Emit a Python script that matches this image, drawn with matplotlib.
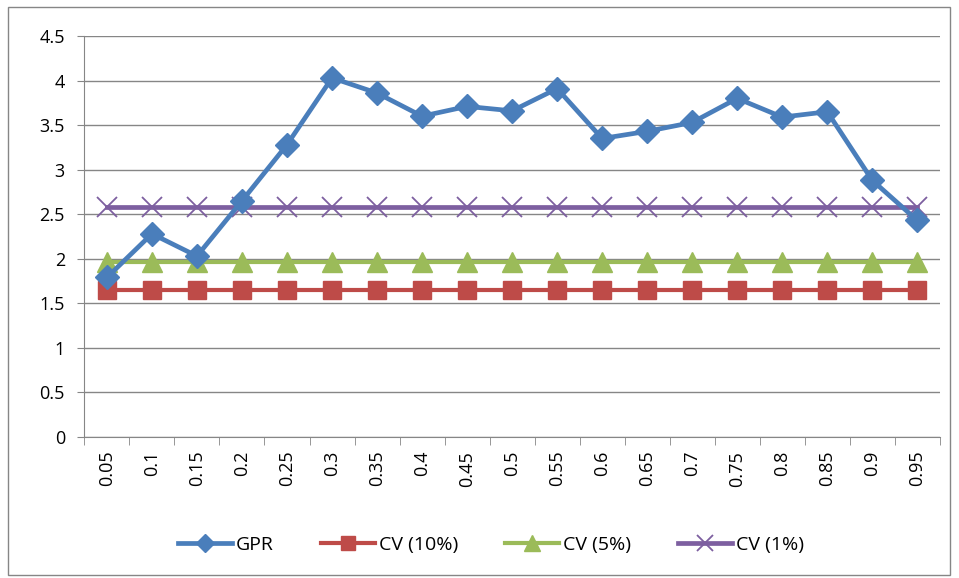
import numpy as np
import matplotlib.pyplot as plt
from matplotlib.patches import Rectangle

plt.rcParams['font.family'] = ['Open Sans', 'DejaVu Sans']

labels = ['0.05', '0.1', '0.15', '0.2', '0.25', '0.3', '0.35', '0.4', '0.45', '0.5',
          '0.55', '0.6', '0.65', '0.7', '0.75', '0.8', '0.85', '0.9', '0.95']
gpr = [1.79, 2.28, 2.03, 2.65, 3.28, 4.03, 3.86, 3.60, 3.71, 3.66,
       3.91, 3.35, 3.43, 3.53, 3.80, 3.59, 3.65, 2.88, 2.43]
cv10 = [1.645] * len(labels)
cv5 = [1.96] * len(labels)
cv1 = [2.576] * len(labels)

x = np.arange(len(labels))

fig = plt.figure(figsize=(9.59, 5.78), dpi=100)
ax = fig.add_axes([0.088, 0.244, 0.892, 0.6937])

# chart border
fig.patches.append(Rectangle((8 / 959, 3 / 578), 942 / 959, 568 / 578,
                             transform=fig.transFigure, fill=False,
                             edgecolor='#868686', lw=1))

ax.plot(x, gpr, color='#4a7ebb', lw=3.4, marker='D', ms=12, label='GPR', zorder=5)
ax.plot(x, cv10, color='#be4b48', lw=3, marker='s', ms=13, label='CV (10%)', zorder=3)
ax.plot(x, cv5, color='#9bbb59', lw=3, marker='^', ms=14, label='CV (5%)', zorder=3)
ax.plot(x, cv1, color='#7d5fa0', lw=3.4, marker='x', ms=14, mew=1.3, label='CV (1%)', zorder=4)

ax.set_xlim(-0.5, len(labels) - 0.5)
ax.set_ylim(0, 4.5)
ax.set_yticks(np.arange(0, 4.51, 0.5))
ax.set_yticklabels(['0', '0.5', '1', '1.5', '2', '2.5', '3', '3.5', '4', '4.5'])
ax.set_xticks(x)
ax.set_xticklabels(labels, rotation=90)
ax.set_xticks(np.arange(-0.5, len(labels), 1), minor=True)
ax.tick_params(axis='x', which='major', length=0, pad=10, labelsize=13)
ax.tick_params(axis='x', which='minor', length=6, color='#868686', direction='out')
ax.tick_params(axis='y', length=5, color='#868686', labelsize=13, pad=9)

ax.grid(axis='y', color='#868686', lw=1)
ax.set_axisbelow(True)
for s in ['top', 'right']:
    ax.spines[s].set_visible(False)
for s in ['left', 'bottom']:
    ax.spines[s].set_color('#868686')

fig.legend(loc='center', bbox_to_anchor=(0.512, 0.057), ncol=4, frameon=False,
           fontsize=14, handlelength=2.8, columnspacing=2.4, handletextpad=0.2,
           markerscale=0.8)

fig.savefig('out.png', dpi=100)
